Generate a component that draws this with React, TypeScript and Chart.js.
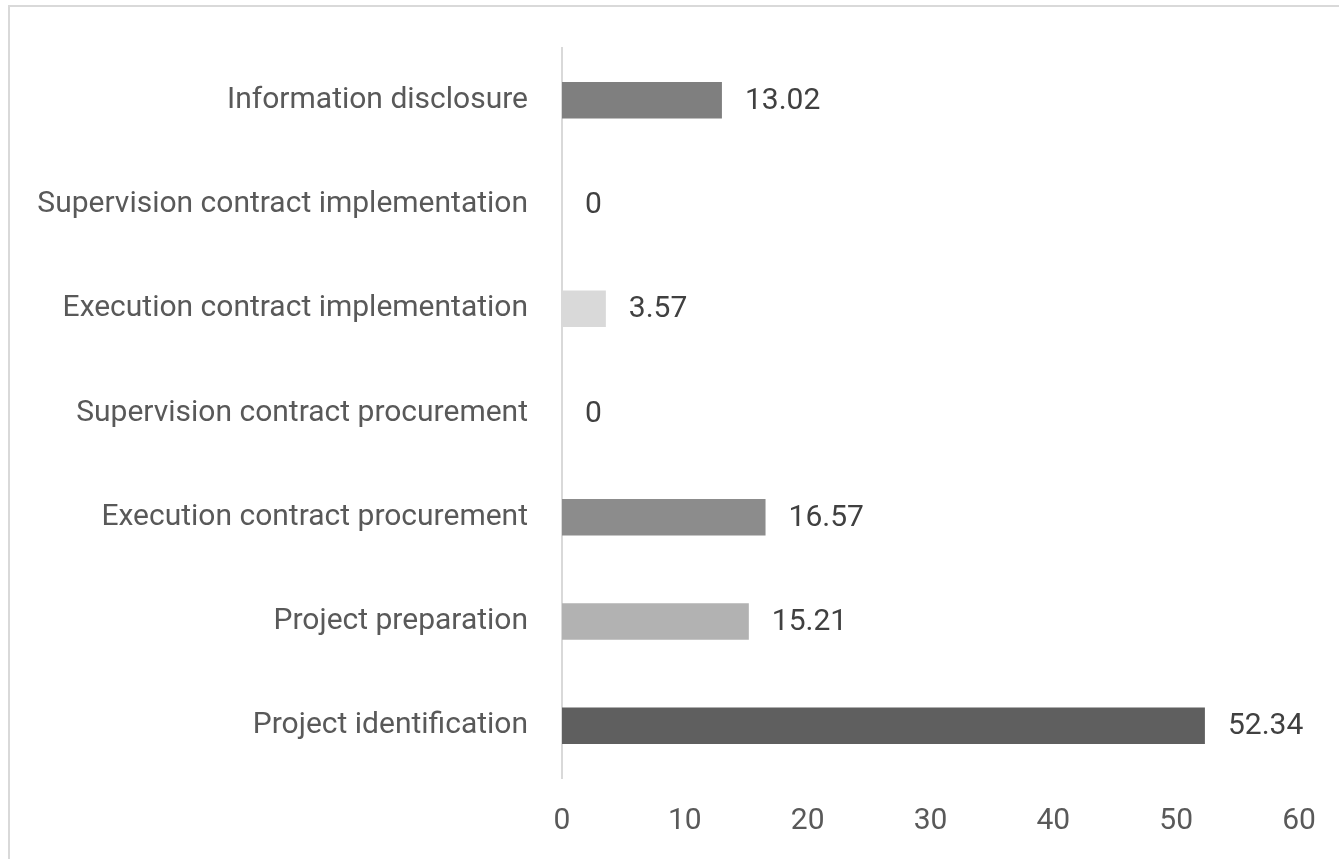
import React, { useEffect, useRef } from "react";
import { Chart, registerables } from "chart.js";

Chart.register(...registerables);

const categories = [
  "Information disclosure",
  "Supervision contract implementation",
  "Execution contract implementation",
  "Supervision contract procurement",
  "Execution contract procurement",
  "Project preparation",
  "Project identification",
];
const values = [13.02, 0, 3.57, 0, 16.57, 15.21, 52.34];
const barColors = ["#7f7f7f", "#a6a6a6", "#d9d9d9", "#bfbfbf", "#8c8c8c", "#b2b2b2", "#5f5f5f"];
const xTicks = [0, 10, 20, 30, 40, 50, 60];

const FONT = "Roboto, 'Liberation Sans', sans-serif";

const valueLabels = {
  id: "valueLabels",
  afterDatasetsDraw(chart: any) {
    const ctx = chart.ctx;
    const meta = chart.getDatasetMeta(0);
    ctx.save();
    ctx.font = `30px ${FONT}`;
    ctx.fillStyle = "#404040";
    ctx.textAlign = "left";
    ctx.textBaseline = "middle";
    meta.data.forEach((bar: any, i: number) => {
      const v = values[i];
      ctx.fillText(String(v), bar.x + 23, bar.y + 1);
    });
    ctx.restore();
  },
};

export default function App() {
  const ref = useRef<HTMLCanvasElement | null>(null);
  useEffect(() => {
    if (!ref.current) return;
    const chart = new Chart(ref.current, {
      type: "bar",
      data: {
        labels: categories,
        datasets: [
          {
            data: values,
            backgroundColor: barColors,
            barPercentage: 0.35,
            categoryPercentage: 1,
          },
        ],
      },
      options: {
        indexAxis: "y",
        animation: false,
        responsive: false,
        maintainAspectRatio: false,
        layout: { padding: { top: 48, right: 40, left: 0, bottom: 0 } },
        plugins: { legend: { display: false }, tooltip: { enabled: false } },
        scales: {
          x: {
            min: 0,
            max: 60,
            afterBuildTicks(scale: any) {
              scale.ticks = xTicks.map((v) => ({ value: v }));
            },
            afterFit(scale: any) {
              scale.height = 81;
              scale.paddingLeft = 0;
              scale.paddingRight = 0;
            },
            grid: { display: false, drawTicks: false },
            border: { display: false },
            ticks: {
              padding: 25,
              color: "#595959",
              font: { family: FONT, size: 30 },
              maxRotation: 0,
              autoSkip: false,
            },
          },
          y: {
            afterFit(scale: any) {
              scale.width = 562;
              scale.paddingTop = 0;
              scale.paddingBottom = 0;
            },
            grid: { display: false, drawTicks: false },
            border: { display: true, color: "#d9d9d9", width: 2 },
            ticks: {
              padding: 34,
              color: "#595959",
              font: { family: FONT, size: 30 },
            },
          },
        },
      },
      plugins: [valueLabels],
    });
    return () => chart.destroy();
  }, []);
  return (
    <div style={{ position: "fixed", left: 0, top: 0, width: 1339, height: 859, background: "#fff" }}>
      <div
        style={{
          position: "absolute",
          left: 8,
          top: 5,
          width: 1400,
          height: 900,
          border: "2px solid #d9d9d9",
          boxSizing: "border-box",
        }}
      />
      <canvas ref={ref} width={1339} height={859} style={{ position: "absolute", left: 0, top: 0 }} />
    </div>
  );
}
